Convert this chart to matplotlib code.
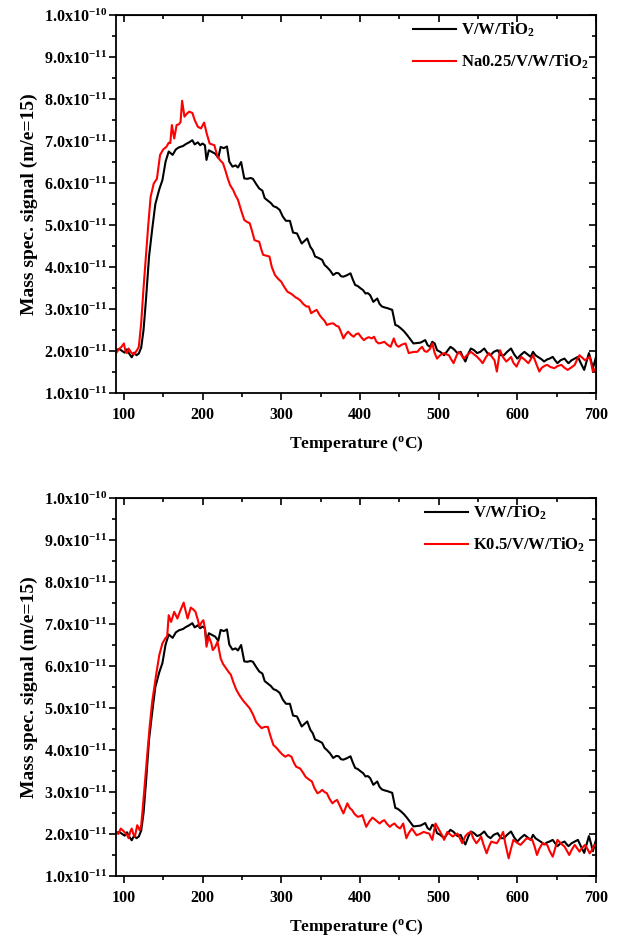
import matplotlib
matplotlib.use('Agg')
import matplotlib.pyplot as plt
import numpy as np

plt.rcParams['font.family'] = 'Liberation Serif'
plt.rcParams['font.weight'] = 'bold'
plt.rcParams['axes.labelweight'] = 'bold'
plt.rcParams['mathtext.fontset'] = 'custom'
plt.rcParams['mathtext.rm'] = 'Liberation Serif:bold'
plt.rcParams['mathtext.it'] = 'Liberation Serif:bold'
plt.rcParams['mathtext.bf'] = 'Liberation Serif:bold'
plt.rcParams['mathtext.default'] = 'rm'

# signal values are in units of 1e-11
temp_ref = [90, 94, 98, 101, 104, 107, 110, 113, 116, 119, 122, 125, 128, 132, 136, 140, 145, 149, 153, 157,
            162, 166, 170, 175, 179, 183, 187, 190, 194, 197, 200, 203, 205, 208, 212, 216, 220, 223, 227, 231,
            234, 238, 242, 245, 249, 253, 257, 261, 264, 268, 272, 276, 279, 283, 287, 290, 294, 298, 302, 306,
            311, 315, 320, 326, 333, 337, 340, 343, 347, 352, 355, 358, 362, 366, 370, 373, 376, 379, 383, 388,
            391, 394, 397, 401, 404, 407, 410, 413, 417, 422, 425, 428, 431, 435, 438, 441, 445, 448, 452, 456,
            460, 464, 468, 472, 477, 480, 483, 486, 489, 492, 495, 498, 502, 507, 511, 515, 519, 524, 528, 531,
            534, 538, 541, 545, 549, 553, 558, 562, 566, 570, 575, 579, 583, 587, 592, 596, 600, 604, 609, 613,
            617, 620, 623, 627, 631, 634, 638, 641, 645, 648, 651, 655, 660, 663, 665, 669, 673, 677, 681, 685,
            688, 691, 694, 696, 698, 700]
sig_ref = [2.02, 2.05, 2.0, 1.96, 2.04, 1.93, 1.85, 1.96, 1.9, 1.94, 2.08, 2.5, 3.2, 4.25, 4.9, 5.5, 5.85, 6.07, 6.51, 6.75,
           6.67, 6.8, 6.85, 6.88, 6.93, 6.97, 7.02, 6.92, 6.97, 6.9, 6.94, 6.9, 6.55, 6.78, 6.74, 6.7, 6.6, 6.86, 6.83, 6.87,
           6.51, 6.39, 6.42, 6.37, 6.5, 6.11, 6.1, 6.12, 6.1, 5.98, 5.87, 5.82, 5.64, 5.58, 5.52, 5.45, 5.42, 5.36, 5.2, 5.1,
           5.1, 4.82, 4.8, 4.56, 4.68, 4.48, 4.4, 4.25, 4.22, 4.17, 4.05, 4.0, 3.92, 3.81, 3.86, 3.85, 3.78, 3.77, 3.8, 3.85,
           3.7, 3.57, 3.55, 3.49, 3.45, 3.37, 3.38, 3.33, 3.17, 3.25, 3.12, 3.06, 3.04, 3.02, 3.0, 2.98, 2.62, 2.6, 2.54, 2.47,
           2.38, 2.28, 2.18, 2.19, 2.2, 2.23, 2.26, 2.14, 2.1, 2.22, 2.18, 2.02, 1.98, 1.9, 2.0, 2.1, 2.05, 1.95, 1.98, 1.85,
           1.75, 1.95, 2.06, 2.02, 1.95, 1.98, 2.06, 1.95, 1.9, 1.98, 2.02, 1.9, 1.9, 1.98, 2.06, 1.92, 1.82, 1.9, 1.98, 1.92,
           1.86, 1.98, 1.9, 1.85, 1.8, 1.75, 1.8, 1.82, 1.86, 1.78, 1.71, 1.78, 1.82, 1.75, 1.71, 1.78, 1.82, 1.86, 1.7, 1.55,
           1.75, 1.95, 1.75, 1.59, 1.72, 1.86]

temp_na = [90, 94, 97, 100, 102, 104, 106, 108, 110, 113, 117, 119, 122, 125, 128, 131, 134, 138, 142, 146,
           150, 154, 157, 159, 161, 164, 167, 170, 172, 174, 177, 180, 183, 187, 190, 194, 198, 202, 205, 209,
           212, 215, 219, 222, 226, 229, 232, 235, 239, 242, 245, 249, 253, 256, 260, 263, 266, 269, 272, 275,
           277, 281, 285, 288, 292, 296, 300, 304, 308, 312, 315, 318, 321, 324, 328, 332, 335, 338, 342, 345,
           349, 352, 355, 358, 362, 366, 370, 373, 376, 379, 382, 385, 389, 392, 395, 398, 402, 405, 408, 411,
           415, 418, 421, 424, 428, 431, 435, 439, 443, 446, 449, 453, 458, 462, 466, 469, 473, 476, 479, 482,
           485, 489, 492, 495, 498, 502, 507, 510, 513, 516, 519, 523, 526, 529, 532, 536, 541, 545, 549, 553,
           556, 560, 564, 567, 571, 574, 578, 582, 586, 589, 592, 595, 599, 602, 605, 609, 614, 617, 620, 624,
           628, 631, 635, 638, 642, 647, 651, 656, 660, 664, 668, 673, 676, 679, 682, 686, 689, 692, 694, 696,
           698, 700]
sig_na = [1.95, 2.05, 2.1, 2.18, 2.0, 1.95, 2.06, 2.0, 1.95, 1.92, 2.03, 2.1, 2.66, 3.5, 4.25, 5.0, 5.67, 5.99, 6.1, 6.67,
          6.8, 6.86, 6.96, 6.95, 7.38, 7.06, 7.38, 7.4, 7.45, 7.96, 7.58, 7.65, 7.7, 7.67, 7.5, 7.34, 7.3, 7.44, 7.2, 6.94,
          6.92, 6.9, 6.63, 6.55, 6.47, 6.3, 6.11, 5.95, 5.83, 5.7, 5.6, 5.35, 5.12, 5.08, 5.04, 4.85, 4.64, 4.62, 4.6, 4.4,
          4.29, 4.27, 4.25, 4.0, 3.81, 3.72, 3.65, 3.52, 3.41, 3.37, 3.33, 3.28, 3.25, 3.21, 3.12, 3.06, 3.06, 2.9, 2.95, 2.98,
          2.85, 2.78, 2.72, 2.62, 2.65, 2.66, 2.6, 2.58, 2.45, 2.3, 2.4, 2.46, 2.38, 2.34, 2.4, 2.42, 2.32, 2.26, 2.3, 2.33,
          2.3, 2.34, 2.22, 2.18, 2.2, 2.22, 2.15, 2.1, 2.3, 2.15, 2.1, 2.15, 2.18, 1.95, 1.97, 1.98, 1.98, 2.05, 2.1, 2.0,
          1.98, 2.05, 2.18, 1.95, 1.82, 1.9, 1.95, 1.92, 1.9, 1.8, 1.71, 1.9, 1.98, 1.9, 1.82, 1.9, 1.98, 1.92, 1.86, 1.78,
          1.71, 1.85, 1.95, 1.88, 1.78, 1.51, 2.02, 1.85, 1.75, 1.8, 1.86, 1.72, 1.63, 1.75, 1.86, 1.8, 1.71, 1.8, 1.9, 1.7,
          1.51, 1.6, 1.65, 1.67, 1.62, 1.59, 1.64, 1.67, 1.6, 1.55, 1.6, 1.67, 1.8, 1.9, 1.85, 1.78, 1.82, 1.86, 1.7, 1.51,
          1.55, 1.59]

temp_k = [90, 93, 96, 99, 102, 104, 106, 108, 110, 112, 114, 117, 120, 122, 124, 127, 130, 133, 136, 141,
          145, 149, 153, 155, 157, 160, 164, 168, 172, 176, 178, 181, 185, 188, 191, 194, 196, 199, 201, 203,
          205, 208, 211, 213, 216, 219, 223, 226, 230, 233, 236, 239, 243, 247, 251, 255, 260, 264, 268, 271,
          275, 279, 283, 286, 290, 294, 298, 301, 305, 309, 313, 316, 319, 324, 328, 331, 335, 339, 342, 346,
          349, 352, 355, 358, 361, 365, 368, 371, 375, 379, 384, 387, 390, 393, 397, 400, 403, 408, 412, 416,
          420, 425, 428, 431, 434, 438, 441, 444, 447, 451, 455, 459, 462, 466, 469, 472, 476, 481, 484, 488,
          492, 496, 499, 502, 505, 507, 511, 514, 518, 521, 524, 527, 530, 534, 537, 541, 544, 548, 551, 554,
          557, 561, 564, 567, 570, 574, 578, 582, 585, 589, 592, 595, 599, 604, 608, 612, 615, 619, 622, 625,
          628, 632, 635, 638, 641, 645, 648, 651, 655, 660, 663, 666, 669, 673, 676, 679, 682, 686, 689, 692,
          695, 698, 700]
sig_k = [2.05, 2.0, 2.13, 2.08, 2.02, 1.98, 1.9, 2.05, 2.13, 2.0, 1.94, 2.21, 2.09, 2.2, 2.61, 3.3, 3.96, 4.6, 5.15, 5.79,
         6.26, 6.54, 6.67, 6.7, 7.21, 7.05, 7.29, 7.13, 7.33, 7.51, 7.35, 7.13, 7.39, 7.35, 7.29, 7.1, 6.94, 7.05, 7.09, 6.9,
         6.46, 6.7, 6.55, 6.38, 6.45, 6.58, 6.18, 6.05, 5.94, 5.86, 5.79, 5.62, 5.43, 5.3, 5.19, 5.1, 4.99, 4.85, 4.67, 4.6,
         4.52, 4.55, 4.55, 4.35, 4.12, 4.05, 3.96, 3.9, 3.84, 3.88, 3.84, 3.7, 3.6, 3.56, 3.45, 3.36, 3.3, 3.25, 3.1, 2.97,
         3.0, 3.05, 3.0, 2.97, 2.85, 2.73, 2.78, 2.81, 2.65, 2.49, 2.73, 2.62, 2.57, 2.48, 2.41, 2.42, 2.45, 2.17, 2.3, 2.39,
         2.33, 2.25, 2.3, 2.33, 2.25, 2.17, 2.22, 2.25, 2.18, 2.13, 2.25, 1.9, 2.02, 2.13, 2.05, 1.97, 2.0, 2.05, 2.03, 2.01,
         1.86, 2.25, 2.15, 2.05, 1.95, 1.86, 2.05, 2.0, 1.94, 1.98, 2.01, 1.9, 1.78, 1.95, 2.01, 2.05, 1.9, 1.78, 1.85, 1.94,
         1.75, 1.54, 1.7, 1.82, 1.8, 1.78, 1.9, 2.05, 1.75, 1.42, 1.65, 1.86, 1.8, 1.74, 1.82, 1.9, 1.88, 1.86, 1.7, 1.5,
         1.65, 1.78, 1.76, 1.74, 1.6, 1.46, 1.65, 1.86, 1.78, 1.7, 1.6, 1.5, 1.62, 1.74, 1.66, 1.58, 1.66, 1.74, 1.65, 1.54,
         1.62, 1.74, 1.7]

ytick_vals = [1, 2, 3, 4, 5, 6, 7, 8, 9, 10]
ytick_labels = ['1.0x10$^{-11}$', '2.0x10$^{-11}$', '3.0x10$^{-11}$', '4.0x10$^{-11}$', '5.0x10$^{-11}$',
                '6.0x10$^{-11}$', '7.0x10$^{-11}$', '8.0x10$^{-11}$', '9.0x10$^{-11}$', '1.0x10$^{-10}$']
xtick_vals = [100, 200, 300, 400, 500, 600, 700]


def draw_panel(ax, t2, s2, label2, leg_x):
    ax.plot(temp_ref, sig_ref, color='black', lw=1.5, label='V/W/TiO$_2$')
    ax.plot(t2, s2, color='red', lw=1.5, label=label2)
    ax.set_xlim(90, 700)
    ax.set_ylim(1, 10)
    ax.set_xticks(xtick_vals)
    ax.set_xticks(np.arange(150, 700, 100), minor=True)
    ax.set_yticks(ytick_vals)
    ax.set_yticklabels(ytick_labels)
    ax.set_yticks(np.arange(1.5, 10, 1), minor=True)
    ax.tick_params(which='major', direction='out', length=5, width=1.2, labelsize=11.5, pad=1.5)
    ax.tick_params(axis='x', which='major', pad=5)
    ax.tick_params(which='minor', direction='out', length=2.8, width=1.2)
    for sp in ax.spines.values():
        sp.set_linewidth(1.3)
    # inward ticks on top and right
    top = ax.secondary_xaxis('top')
    top.set_xticks(xtick_vals)
    top.set_xticks(np.arange(150, 700, 100), minor=True)
    top.tick_params(which='major', direction='in', length=5, width=1.2, labeltop=False)
    top.tick_params(which='minor', direction='in', length=2.8, width=1.2)
    right = ax.secondary_yaxis('right')
    right.set_yticks(ytick_vals)
    right.set_yticks(np.arange(1.5, 10, 1), minor=True)
    right.tick_params(which='major', direction='in', length=5, width=1.2, labelright=False)
    right.tick_params(which='minor', direction='in', length=2.8, width=1.2)
    ax.set_xlabel('Temperature ($^{o}$C)', fontsize=12.5, labelpad=8)
    ax.set_ylabel('Mass spec. signal (m/e=15)', fontsize=14, labelpad=4)
    ax.legend(loc='upper left', bbox_to_anchor=(leg_x, 0.984), frameon=False, fontsize=12,
              handlelength=2.6, handletextpad=0.25, borderpad=0, borderaxespad=0, labelspacing=0.8)


fig = plt.figure(figsize=(6.18, 9.4), dpi=100)
ax1 = fig.add_axes([0.1877, 0.5819, 0.7767, 0.4021])
ax2 = fig.add_axes([0.1877, 0.0681, 0.7767, 0.4021])
draw_panel(ax1, temp_na, sig_na, 'Na0.25/V/W/TiO$_2$', 0.619)
draw_panel(ax2, temp_k, sig_k, 'K0.5/V/W/TiO$_2$', 0.644)

fig.savefig('out.png', dpi=100)
